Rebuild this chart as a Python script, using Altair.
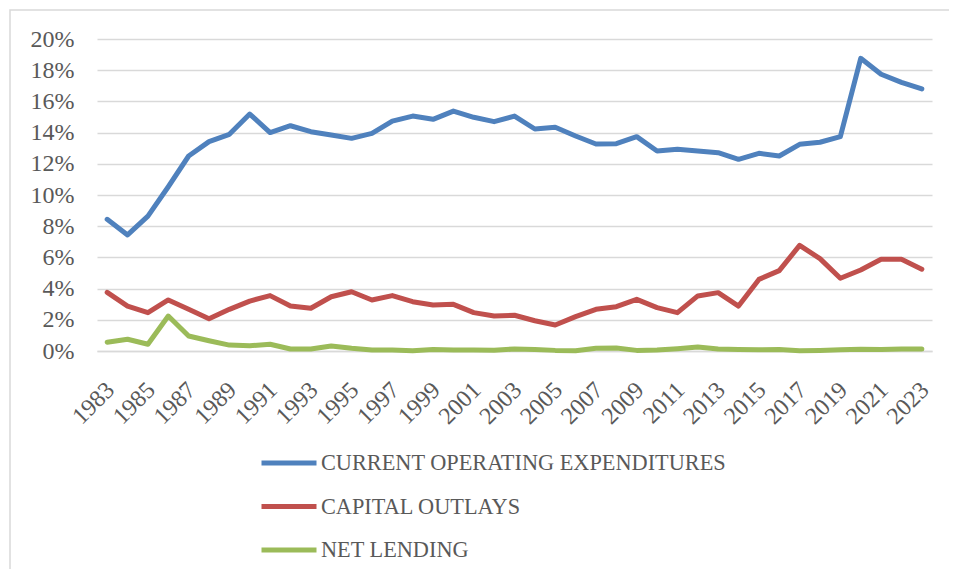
import altair as alt
import pandas as pd

years = list(range(1983, 2024))
series_names = ["CURRENT OPERATING EXPENDITURES", "CAPITAL OUTLAYS", "NET LENDING"]
series_colors = ["#4F81BD", "#C0504D", "#9BBB59"]

current_operating = [8.44, 7.44, 8.65, 10.53, 12.50, 13.42, 13.89, 15.19, 14.00, 14.44,
                     14.06, 13.85, 13.63, 13.95, 14.74, 15.06, 14.85, 15.38, 14.98, 14.70,
                     15.06, 14.23, 14.34, 13.78, 13.27, 13.29, 13.74, 12.82, 12.93, 12.82,
                     12.71, 12.29, 12.67, 12.50, 13.25, 13.38, 13.74, 18.76, 17.74, 17.22,
                     16.80]
capital_outlays = [3.76, 2.88, 2.46, 3.27, 2.67, 2.07, 2.67, 3.20, 3.55, 2.88,
                   2.74, 3.48, 3.80, 3.27, 3.55, 3.16, 2.95, 2.99, 2.46, 2.24,
                   2.29, 1.94, 1.67, 2.20, 2.67, 2.84, 3.31, 2.78, 2.46, 3.53,
                   3.74, 2.88, 4.59, 5.15, 6.77, 5.92, 4.66, 5.19, 5.88, 5.88,
                   5.24]
net_lending = [0.56, 0.75, 0.43, 2.24, 0.96, 0.66, 0.38, 0.34, 0.43, 0.13,
               0.13, 0.32, 0.17, 0.06, 0.06, 0.02, 0.10, 0.06, 0.06, 0.05,
               0.13, 0.10, 0.04, 0.02, 0.17, 0.19, 0.04, 0.06, 0.15, 0.25,
               0.13, 0.10, 0.08, 0.10, 0.02, 0.04, 0.08, 0.12, 0.10, 0.13,
               0.13]

x_tick_years = list(range(1983, 2024, 2))
y_ticks = list(range(0, 21, 2))
title_text = "Figure 2. National government expenditures by expense class (as % of GDP)"

rows = []
for name, vals in zip(series_names, [current_operating, capital_outlays, net_lending]):
    for yr, v in zip(years, vals):
        rows.append({"year": yr, "value": v, "series": name})
df = pd.DataFrame(rows)

GRID = "#D9D9D9"
LABEL = "#595959"
SERIF = "Liberation Serif"

frame = alt.Chart(pd.DataFrame({"k": [0]})).mark_rect(
    fill="transparent", stroke=GRID, strokeWidth=1.5
).encode(
    x=alt.value(-87), x2=alt.value(900), y=alt.value(-29), y2=alt.value(700)
)

title = alt.Chart(pd.DataFrame({"t": [title_text]})).mark_text(
    align="left", baseline="alphabetic", font="Liberation Sans", fontWeight="bold",
    fontSize=25, color="#000000"
).encode(
    text="t:N", x=alt.value(-97), y=alt.value(-38)
)

lines = alt.Chart(df).mark_line(
    strokeWidth=5, strokeCap="round", strokeJoin="round"
).encode(
    x=alt.X("year:Q",
            scale=alt.Scale(domain=[1982.5, 2023.5], nice=False, zero=False),
            axis=alt.Axis(values=x_tick_years, format="d", title=None,
                          labelAngle=-45, labelAlign="right", labelBaseline="middle",
                          labelPadding=35, labelOffset=3, ticks=False, grid=False,
                          domain=True, domainColor=GRID, domainWidth=1.5,
                          labelFont=SERIF, labelFontSize=24, labelColor=LABEL,
                          labelOverlap=False, labelFlush=False)),
    y=alt.Y("value:Q",
            scale=alt.Scale(domain=[0, 20], nice=False),
            axis=alt.Axis(values=y_ticks, labelExpr="datum.value + '%'", title=None,
                          domain=False, ticks=False, grid=True, gridColor=GRID,
                          gridWidth=1.5, labelPadding=23, labelFont=SERIF,
                          labelFontSize=24, labelColor=LABEL)),
    color=alt.Color("series:N",
                    scale=alt.Scale(domain=series_names, range=series_colors),
                    sort=series_names,
                    legend=alt.Legend(orient="none", legendX=162, legendY=409,
                                      direction="vertical", title=None,
                                      symbolType="stroke", symbolSize=3025,
                                      symbolStrokeWidth=5, clipHeight=30,
                                      rowPadding=13.5, labelOffset=2, padding=0,
                                      labelFont=SERIF, labelFontSize=22.3,
                                      labelColor=LABEL, labelLimit=0)),
    order=alt.Order("year:Q"),
)

chart = alt.layer(frame, title, lines).properties(
    width=835, height=312,
    autosize=alt.AutoSizeParams(type="none"),
    padding={"left": 89, "top": 31, "right": 17, "bottom": 218},
    background="#FFFFFF",
).configure_view(stroke=None)

chart.save("out.html", embed_options={"renderer": "svg", "actions": False})
